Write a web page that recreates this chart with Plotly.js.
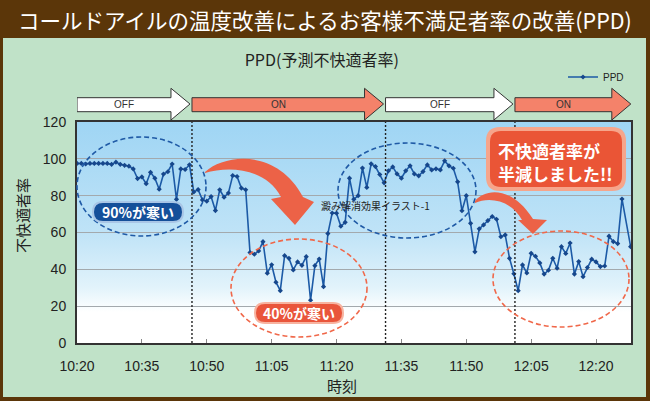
<!DOCTYPE html>
<html><head><meta charset="utf-8">
<script src="https://cdn.plot.ly/plotly-3.0.1.min.js"></script>
<style>
html,body{margin:0;padding:0;background:#5b3609;}
#wrap{position:relative;width:650px;height:401px;background:#5b3609;overflow:hidden;}
#panel{position:absolute;left:3px;top:38px;width:643px;height:359px;background:#c0e2c8;}
#chart{position:absolute;left:0;top:0;width:650px;height:401px;}
</style></head><body>
<div id="wrap"><div id="panel"></div><div id="chart"></div></div>
<script>
// ---- data ----
const times = [
"10:20","10:21","10:22","10:23","10:24","10:25","10:26","10:27","10:28","10:29",
"10:30","10:31","10:32","10:33","10:34","10:35","10:36","10:37","10:38","10:39",
"10:40","10:41","10:42","10:43","10:44","10:45","10:46","10:47","10:48","10:49",
"10:50","10:51","10:52","10:53","10:54","10:55","10:56","10:57","10:58","10:59",
"11:00","11:01","11:02","11:03","11:04","11:05","11:06","11:07","11:08","11:09",
"11:10","11:11","11:12","11:13","11:14","11:15","11:16","11:17","11:18","11:19",
"11:20","11:21","11:22","11:23","11:24","11:25","11:26","11:27","11:28","11:29",
"11:30","11:31","11:32","11:33","11:34","11:35","11:36","11:37","11:38","11:39",
"11:40","11:41","11:42","11:43","11:44","11:45","11:46","11:47","11:48","11:49",
"11:50","11:51","11:52","11:53","11:54","11:55","11:56","11:57","11:58","11:59",
"12:00","12:01","12:02","12:03","12:04","12:05","12:06","12:07","12:08","12:09",
"12:10","12:11","12:12","12:13","12:14","12:15","12:16","12:17","12:18","12:19",
"12:20","12:21","12:22","12:23","12:24","12:25","12:26","12:28"];
const ppd = [
97.5,97.5,97.2,97.5,97.5,97.5,97.5,97.5,97.0,98.2,
97.0,96.5,96.0,94.5,89.3,90.2,86.5,92.7,89.5,83.5,
91.7,93.0,97.2,78.0,94.5,94.2,96.8,82.0,83.3,77.7,
77.0,79.5,71.9,83.2,79.2,81.4,90.9,90.4,84.1,83.2,
49.1,48.2,50.0,55.0,37.9,42.5,33.0,28.4,47.4,46.0,
39.7,44.0,42.2,46.9,23.2,42.0,45.6,30.6,59.4,70.6,
70.5,63.4,65.5,89.5,78.0,80.0,95.0,84.5,97.3,95.8,
91.5,87.0,93.5,95.6,91.8,89.5,93.5,96.2,91.8,90.8,
93.1,96.7,94.0,94.6,94.0,98.9,96.2,94.9,87.5,71.8,
80.0,65.0,49.5,62.0,64.1,66.5,68.7,67.2,57.7,58.7,
46.0,37.6,28.4,42.4,38.0,48.7,47.1,43.5,37.4,39.5,
46.0,40.6,52.3,48.6,54.3,37.4,44.2,36.0,41.0,45.5,
44.0,41.5,41.8,58.0,55.0,54.0,78.2,52.3];
const tickLabels = ["10:20","10:35","10:50","11:05","11:20","11:35","11:50","12:05","12:20"];
const yTicks = [0,20,40,60,80,100,120];
const phaseLabels = ["OFF","ON","OFF","ON"];
const phaseStarts = ["10:20","10:46:35","11:31:20","12:01:15"];
const axisStart = "10:20";
const axisEnd = "12:28:05";

// ---- helpers ----
function toMin(t){ const p=t.split(':').map(Number); const s=axisStart.split(':').map(Number);
  return (p[0]*60+p[1]+(p[2]||0)/60)-(s[0]*60+s[1]); }
// pixel -> paper (plot area 77..631 x 122..343)
const PX = px => (px-77)/554;
const PY = py => (343-py)/221;
function pathPx(segs){
  return segs.map(s=>{ const c=s[0]; const pts=s.slice(1).map(p=>PX(p[0]).toFixed(5)+','+PY(p[1]).toFixed(5)); return c+pts.join(' '); }).join(' ')+' Z';
}
function rrect(x0,y0,x1,y1,r){
  return pathPx([['M',[x0+r,y0]],['L',[x1-r,y0]],['Q',[x1,y0],[x1,y0+r]],['L',[x1,y1-r]],['Q',[x1,y1],[x1-r,y1]],
    ['L',[x0+r,y1]],['Q',[x0,y1],[x0,y1-r]],['L',[x0,y0+r]],['Q',[x0,y0],[x0+r,y0]]]);
}
const jp = '"Noto Sans CJK JP", "Noto Sans", sans-serif';
const ar = '"Liberation Sans", Arial, sans-serif';

const shapes = [];
const annotations = [];
function note(o){ annotations.push(Object.assign({showarrow:false, xanchor:'center', yanchor:'middle'}, o)); }

// phase arrows above plot
const xEnd = toMin(axisEnd);
const pxPerMin = 554/xEnd;
const bodyTop=1.110, bodyBot=1.0466, headTop=1.1525, headBot=1.009, tipY=1.0814;
phaseLabels.forEach((lab,i)=>{
  const x0 = toMin(phaseStarts[i]);
  const tip = i<phaseLabels.length-1 ? toMin(phaseStarts[i+1]) - 2/pxPerMin : xEnd - 0.2/pxPerMin;
  const base = tip - 19/pxPerMin;
  const p = `M${x0},${bodyBot} L${base},${bodyBot} L${base},${headBot} L${tip},${tipY} L${base},${headTop} L${base},${bodyTop} L${x0},${bodyTop} Z`;
  shapes.push({type:'path', xref:'x', yref:'paper', path:p, fillcolor: lab==='ON' ? '#f4826a' : '#ffffff', line:{color:'#333333', width:1}});
  note({xref:'x', yref:'paper', x:(x0+base)/2, y:(bodyTop+bodyBot)/2, text:lab, font:{family:ar, size:10, color:'#333'}});
  if(i>0) shapes.push({type:'line', xref:'x', yref:'paper', x0:x0, x1:x0, y0:0, y1:1, line:{color:'#222', width:1.4, dash:'2px,2px'}});
});

// ellipses
const ell = (x0,y0,x1,y1,c)=>shapes.push({type:'circle', xref:'paper', yref:'paper', x0:PX(x0), x1:PX(x1), y0:PY(y1), y1:PY(y0), line:{color:c, width:1.6, dash:'5px,3px'}});
ell(77,137,206,236,'#1f5aa6');
ell(231,239,367,337,'#f0684a');
ell(338,143,476,238,'#1f5aa6');
ell(493,231,629,327,'#f0684a');

// curved arrows
shapes.push({type:'path', xref:'paper', yref:'paper', line:{width:0}, fillcolor:'#ec6247',
  path: pathPx([['M',[205,172]],['C',[225,154],[277,148],[303,197]],['L',[314,202]],['L',[295,225]],['L',[271,199]],['L',[281,197]],['C',[266,168],[229,166],[205,173]]])});
shapes.push({type:'path', xref:'paper', yref:'paper', line:{width:0}, fillcolor:'#ec6247',
  path: pathPx([['M',[475,201]],['C',[485,189],[511,185],[533,219]],['L',[547,220]],['L',[533,234]],['L',[518,220]],['L',[522,220]],['C',[512,201],[490,196],[475,203]]])});

// pills and callout
shapes.push({type:'path', xref:'paper', yref:'paper', line:{width:0}, fillcolor:'#a9c6e6', path:rrect(92,201,184,223,11)});
shapes.push({type:'path', xref:'paper', yref:'paper', line:{width:0}, fillcolor:'#15509a', path:rrect(94,203,182,221,9)});
shapes.push({type:'path', xref:'paper', yref:'paper', line:{width:0}, fillcolor:'#f7b3a0', path:rrect(254,302,344,324,11)});
shapes.push({type:'path', xref:'paper', yref:'paper', line:{width:0}, fillcolor:'#e9553b', path:rrect(256,304,342,322,9)});
shapes.push({type:'path', xref:'paper', yref:'paper', line:{width:0}, fillcolor:'#f6a58b', path:rrect(486,127,626,191,14)});
shapes.push({type:'path', xref:'paper', yref:'paper', line:{width:0}, fillcolor:'#ea5536', path:rrect(490,131,622,187,11)});

// texts
note({xref:'paper', yref:'paper', x:PX(325), y:PY(19), text:'コールドアイルの温度改善によるお客様不満足者率の改善(PPD)', font:{family:jp, size:21.5, color:'#ffffff'}});
note({xref:'paper', yref:'paper', x:PX(138), y:PY(212), text:'90%が寒い', font:{family:jp, size:14, color:'#ffffff', weight:'bold'}});
note({xref:'paper', yref:'paper', x:PX(299), y:PY(313), text:'40%が寒い', font:{family:jp, size:14, color:'#ffffff', weight:'bold'}});
note({xref:'paper', yref:'paper', x:PX(496), y:PY(150), xanchor:'left', text:'不快適者率が', font:{family:jp, size:17, color:'#ffffff', weight:'bold'}});
note({xref:'paper', yref:'paper', x:PX(496), y:PY(173), xanchor:'left', text:'半減しました!!', font:{family:jp, size:17, color:'#ffffff', weight:'bold'}});
note({xref:'paper', yref:'paper', x:PX(375), y:PY(205), text:'澱み解消効果イラスト-1', font:{family:jp, size:10, color:'#222'}});
note({xref:'paper', yref:'paper', x:PX(22), y:PY(216), text:'不快適者率', textangle:-90, font:{family:jp, size:15, color:'#222'}});
note({xref:'paper', yref:'paper', x:PX(342), y:PY(385), text:'時刻', font:{family:jp, size:15, color:'#222'}});

const grad = "<svg xmlns='http://www.w3.org/2000/svg' width='10' height='100' preserveAspectRatio='none'><defs><linearGradient id='g' x1='0' y1='0' x2='0' y2='1'><stop offset='0' stop-color='#9fd5f4'/><stop offset='0.5' stop-color='#bfe3f7'/><stop offset='0.75' stop-color='#e2f3fb'/><stop offset='0.86' stop-color='#ffffff'/><stop offset='1' stop-color='#ffffff'/></linearGradient></defs><rect width='10' height='100' fill='url(#g)'/></svg>";

const trace = {
  x: times.map(toMin), y: ppd, name:'PPD', type:'scatter', mode:'lines+markers',
  line:{color:'#1c5aa6', width:1.6}, marker:{symbol:'diamond', size:4, color:'#16478c'}
};

const layout = {
  width:650, height:401,
  margin:{l:77, r:19, t:122, b:58},
  paper_bgcolor:'rgba(0,0,0,0)', plot_bgcolor:'rgba(0,0,0,0)',
  title:{text:'PPD(予測不快適者率)', x:0.495, xanchor:'center', y:1-60/401, yanchor:'middle', font:{family:jp, size:16, color:'#222'}},
  showlegend:true,
  legend:{x:PX(563), y:PY(77), xanchor:'left', yanchor:'middle', bgcolor:'rgba(0,0,0,0)', itemwidth:30, font:{family:ar, size:10, color:'#222'}},
  xaxis:{range:[0,xEnd], tickvals:tickLabels.map(toMin), ticktext:tickLabels, ticks:'inside', ticklen:4, tickcolor:'#888', tickwidth:1,
    showgrid:false, zeroline:false, showline:true, mirror:true, linecolor:'#333', linewidth:2, tickfont:{family:ar, size:14, color:'#222'}, ticklabelstandoff:9},
  yaxis:{range:[0,120], tickvals:yTicks, ticks:'', showgrid:true, gridcolor:'#a3a9ad', gridwidth:1.2, zeroline:false,
    showline:true, mirror:true, linecolor:'#333', linewidth:2, tickfont:{family:ar, size:14, color:'#222'}, ticklabelstandoff:6},
  images:[{source:'data:image/svg+xml;charset=utf-8,'+encodeURIComponent(grad), xref:'paper', yref:'paper', x:0, y:1, sizex:1, sizey:1, sizing:'stretch', xanchor:'left', yanchor:'top', layer:'below'}],
  shapes:shapes, annotations:annotations
};
Plotly.newPlot('chart',[trace],layout,{staticPlot:true, displayModeBar:false});
</script></body></html>
